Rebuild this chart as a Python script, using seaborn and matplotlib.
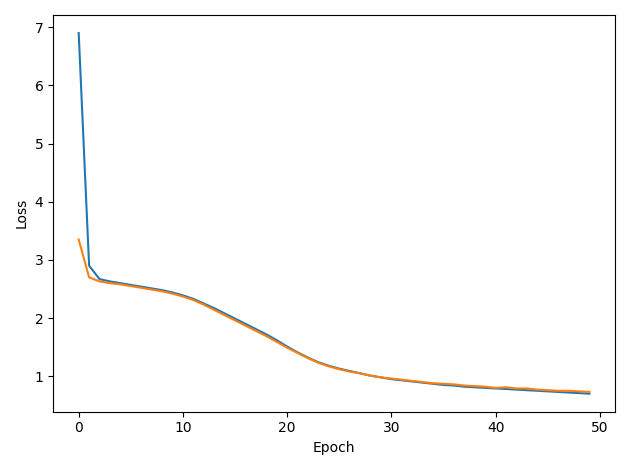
import numpy as np
import pandas as pd
import seaborn as sns
import matplotlib.pyplot as plt

epochs = list(range(50))
train_loss = [6.9, 2.9, 2.67, 2.63, 2.6, 2.57, 2.54, 2.51, 2.48, 2.44,
              2.39, 2.33, 2.25, 2.17, 2.08, 1.99, 1.9, 1.81, 1.72, 1.62,
              1.51, 1.41, 1.32, 1.24, 1.18, 1.13, 1.09, 1.05, 1.01, 0.98,
              0.95, 0.93, 0.91, 0.89, 0.87, 0.85, 0.84, 0.82, 0.81, 0.80,
              0.79, 0.78, 0.77, 0.76, 0.75, 0.74, 0.73, 0.72, 0.71, 0.70]
val_loss = [3.35, 2.7, 2.63, 2.6, 2.58, 2.55, 2.52, 2.49, 2.46, 2.42,
            2.37, 2.31, 2.23, 2.14, 2.05, 1.96, 1.87, 1.78, 1.69, 1.59,
            1.49, 1.40, 1.31, 1.23, 1.17, 1.12, 1.08, 1.05, 1.01, 0.98,
            0.96, 0.94, 0.92, 0.90, 0.88, 0.87, 0.86, 0.84, 0.83, 0.82,
            0.80, 0.81, 0.79, 0.79, 0.77, 0.76, 0.75, 0.75, 0.74, 0.73]

fig, ax = plt.subplots(figsize=(6.3, 4.7), dpi=100)
sns.lineplot(x=epochs, y=train_loss, ax=ax, color='#1f77b4')
sns.lineplot(x=epochs, y=val_loss, ax=ax, color='#ff7f0e')
ax.set_xlabel('Epoch')
ax.set_ylabel('Loss')
plt.tight_layout()
plt.savefig('out.png')
